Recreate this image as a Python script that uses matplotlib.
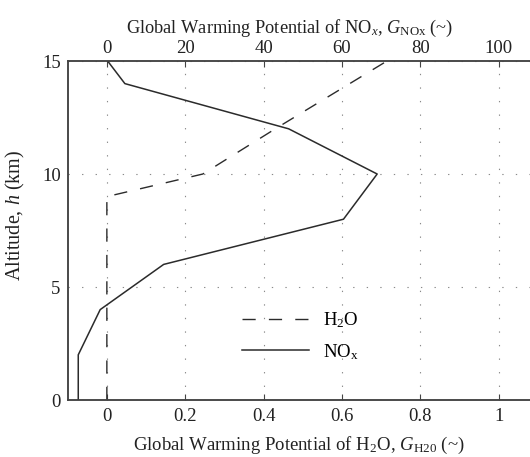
import matplotlib
matplotlib.use("Agg")
import matplotlib.pyplot as plt

# altitude profiles (km)
h_nox = [0, 2, 4, 6, 8, 10, 12, 14, 15]
g_nox = [-7.3, -7.3, -1.7, 14.5, 60.4, 69.0, 46.4, 4.6, 0.2]

h_h2o = [0, 2, 4, 6, 8, 9, 10, 12, 14, 15]
g_h2o = [0, 0, 0, 0, 0, 0, 0.245, 0.43, 0.62, 0.715]

bottom_ticks = [0, 0.2, 0.4, 0.6, 0.8, 1.0]
bottom_labels = ["0", "0.2", "0.4", "0.6", "0.8", "1"]
top_ticks = [0, 20, 40, 60, 80, 100]
y_ticks = [0, 5, 10, 15]

plt.rcParams["font.family"] = "Liberation Serif"
plt.rcParams["mathtext.fontset"] = "custom"
plt.rcParams["mathtext.rm"] = "Liberation Serif"
plt.rcParams["mathtext.it"] = "Liberation Serif:italic"
plt.rcParams["font.size"] = 13.5

ink = "#2b2b2b"
txt = "#222222"
fig = plt.figure(figsize=(5.30, 4.57), dpi=100)
ax = fig.add_axes([0.1277, 0.1247, 0.887, 0.7418])
ax2 = ax.twiny()

ax.set_xlim(-0.1, 1.1)
ax.set_ylim(0, 15)
ax2.set_xlim(-10, 110)

ln_h2o, = ax.plot(g_h2o, h_h2o, color=ink, lw=1.0, dashes=(9.5, 9.5))
ln_nox, = ax2.plot(g_nox, h_nox, color=ink, lw=1.1)

ax.set_xticks(bottom_ticks)
ax.set_xticklabels(bottom_labels)
ax.set_yticks(y_ticks)
ax2.set_xticks(top_ticks)

ax.grid(True, color="#8a8a8a", lw=0.8, dashes=(1.2, 11))

for a in (ax, ax2):
    for s in a.spines.values():
        s.set_color("#444444")
        s.set_linewidth(1.1)
ax.tick_params(axis="x", direction="in", length=4, pad=6, colors="#444444", labelcolor=txt)
ax.tick_params(axis="y", direction="in", length=0, pad=5, labelcolor=txt)
ax2.tick_params(axis="x", direction="in", length=4, pad=3, colors="#444444", labelcolor=txt)

ax.set_xlabel("Global Warming Potential of H$_2$O, $G_{\\mathrm{H20}}$ (~)", color=txt)
ax.xaxis.set_label_coords(0.492, -0.104)
ax2.set_xlabel("Global Warming Potential of NO$_x$, $G_{\\mathrm{NOx}}$ (~)", color=txt,
               fontsize=13.2)
ax2.xaxis.set_label_coords(0.472, 1.082)
ax.set_ylabel("Altitude, $h$ (km)", color=txt, fontsize=14.5)
ax.yaxis.set_label_coords(-0.086, 0.545)

ax2.legend([ln_h2o, ln_nox], ["H$_2$O", "NO$_\\mathrm{x}$"], loc="center left",
           bbox_to_anchor=(0.438, 0.265), bbox_transform=fig.transFigure,
           frameon=False, borderpad=0, handlelength=3.6, handletextpad=0.75,
           labelspacing=0.65)

fig.savefig("out.png", dpi=100)
